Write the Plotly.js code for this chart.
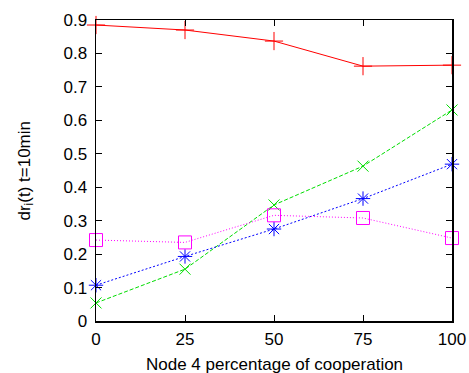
<!DOCTYPE html>
<html><head><meta charset="utf-8">
<script src="https://cdn.plot.ly/plotly-3.0.1.min.js"></script>
<style>html,body{margin:0;padding:0;background:#fff}#c{width:469px;height:373px}</style>
</head><body><div id="c"></div>
<script>
const xs = [0, 25, 50, 75, 100];
const redY = [0.885, 0.870, 0.837, 0.762, 0.765];
const greenY = [0.054, 0.155, 0.347, 0.463, 0.631];
const blueY = [0.107, 0.193, 0.275, 0.366, 0.469];
const magentaY = [0.242, 0.235, 0.316, 0.308, 0.248];
const yTicks = [0, 0.1, 0.2, 0.3, 0.4, 0.5, 0.6, 0.7, 0.8, 0.9];
const yTickText = ['0', '0.1', '0.2', '0.3', '0.4', '0.5', '0.6', '0.7', '0.8', '0.9'];
const xTitle = 'Node 4 percentage of cooperation';
const yTitle = 'dr<sub>i</sub>(t) t=10min';

function tr(y, color, dash, symbol, size) {
  return {x: xs, y: y, type: 'scatter', mode: 'lines+markers', cliponaxis: false,
    line: {color: color, width: 1, dash: dash},
    marker: {symbol: symbol, size: size, color: color, line: {color: color, width: 1}}};
}
const data = [
  tr(redY, '#ff0000', 'solid', 'cross-thin-open', 13),
  tr(greenY, '#00dd00', '4px,2px', 'x-thin-open', 11),
  tr(blueY, '#0000ff', '2px,2px', 'asterisk-open', 12),
  tr(magentaY, '#ff00ff', '1px,2px', 'square-open', 13)
];
const font = {family: '"Liberation Sans", Arial, sans-serif', size: 17, color: '#000'};
const layout = {
  width: 469, height: 373, showlegend: false,
  margin: {l: 96, r: 17, t: 20, b: 52},
  paper_bgcolor: '#fff', plot_bgcolor: '#fff', font: font,
  xaxis: {range: [0, 100], tickvals: xs, ticktext: xs.map(String), ticks: 'inside', ticklen: 6,
    tickcolor: '#000', showgrid: false, zeroline: false, showline: true, mirror: 'ticks',
    linecolor: '#000', linewidth: 1.5, tickfont: font, ticklabelstandoff: 2},
  yaxis: {range: [0, 0.9], tickvals: yTicks, ticktext: yTickText, ticks: 'inside', ticklen: 6,
    tickcolor: '#000', showgrid: false, zeroline: false, showline: true, mirror: 'ticks',
    linecolor: '#000', linewidth: 1.5, tickfont: font, ticklabelstandoff: 4},
  annotations: [
    {text: xTitle, xref: 'paper', yref: 'paper', x: 0.5, y: 0, xanchor: 'center', yanchor: 'middle',
     yshift: -43, showarrow: false, font: font},
    {text: yTitle, xref: 'paper', yref: 'paper', x: 0, y: 0.5, xanchor: 'center', yanchor: 'middle',
     xshift: -71, textangle: -90, showarrow: false, font: font}
  ]
};
Plotly.newPlot('c', data, layout, {displayModeBar: false, staticPlot: true});
</script></body></html>
